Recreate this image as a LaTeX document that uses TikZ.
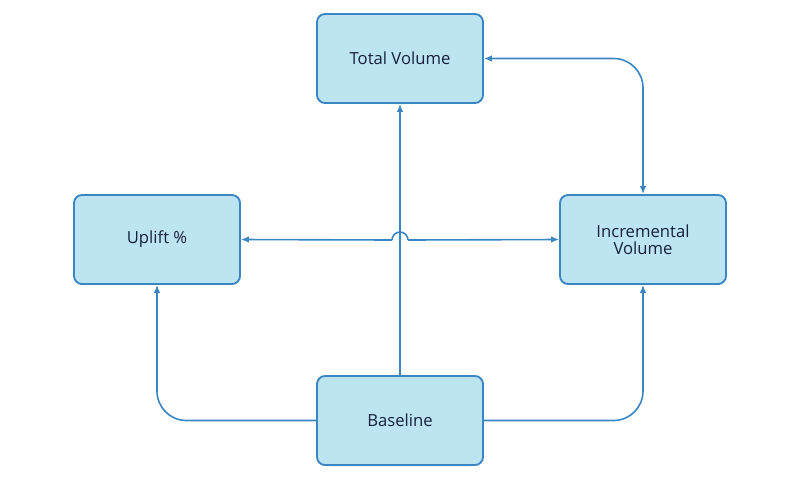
\documentclass[tikz,border=0pt]{standalone}
\usepackage{fontspec}
\setmainfont{Open Sans}
\usetikzlibrary{arrows.meta}
\definecolor{boxfill}{HTML}{BDE4F1}
\definecolor{boxline}{HTML}{3A86C3}
\definecolor{boxtext}{HTML}{16213A}
\tikzset{%
  metric/.style = {shape=rectangle, rounded corners=6pt, draw=boxline,%
                   line width=1.4pt, fill=boxfill, align=center,%
                   minimum width=124.5pt, minimum height=66.75pt,%
                   text=boxtext, font=\fontsize{12.5pt}{13pt}\selectfont},%
  link/.style   = {draw=boxline, line width=1.2pt, rounded corners=22pt,%
                   -{Latex[length=6pt,width=5pt]}},%
  dlink/.style  = {link, {Latex[length=6pt,width=5pt]}-{Latex[length=6pt,width=5pt]}}%
}
\begin{document}
\begin{tikzpicture}[x=0.75pt,y=-0.75pt]
	\useasboundingbox (0,0) rectangle (800,480);
	\node [metric] (total) at (400,58.5) {Total Volume};
	\node [metric] (uplift) at (157,239.5) {Uplift \%};
	\node [metric] (incr) at (643,239.5) {Incremental\\Volume};
	\node [metric] (base) at (400,420.5) {Baseline};
	% connectors
	\draw [link] (base.north) -- (total.south);
	\draw [link] (base.west) -| (uplift.south);
	\draw [link] (base.east) -| (incr.south);
	\draw [dlink] (total.east) -| (incr.north);
	% hop over the vertical line
	\coordinate (hopL) at (392,240);
	\coordinate (hopR) at (408,240);
	\draw [link, rounded corners=0pt, -] (hopL) arc (180:360:8);
	\draw [link, {Latex[length=6pt,width=5pt]}-] (uplift.east) -- (hopL);
	\draw [link] (hopR) -- (incr.west);
\end{tikzpicture}
\end{document}
